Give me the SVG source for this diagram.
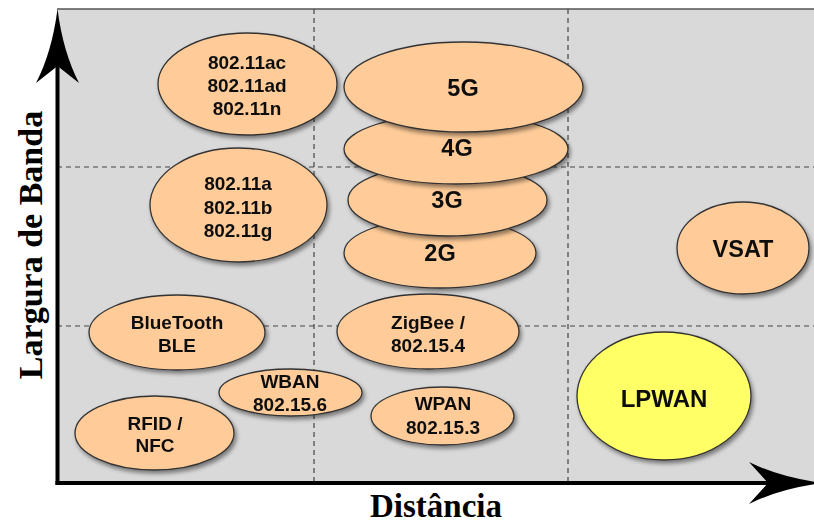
<svg xmlns="http://www.w3.org/2000/svg" width="814" height="524" viewBox="0 0 814 524">
<style>
.bg{fill:#D9D9D9;stroke:none}
.frame{fill:none;stroke:#555;stroke-width:1.5}
.grid{stroke:#444;stroke-width:1.2;stroke-dasharray:5 4;fill:none}
.node ellipse{fill:#FFCC99;stroke:#333;stroke-width:1.3}
.node.yellow ellipse{fill:#FFFF66}
.node{filter:url(#shadow)}
.lbl{font-family:"Liberation Sans",Arial,sans-serif;font-weight:bold;font-size:19px;fill:#111;text-anchor:middle}
.big{font-size:23.5px}
.axislbl{font-family:"Liberation Serif","Times New Roman",serif;font-weight:bold;font-size:33px;fill:#000;text-anchor:middle}
.axis{stroke:#000;stroke-width:4;fill:none}
.head{fill:#000;stroke:none}
</style>
<defs>
<filter id="shadow" x="-20%" y="-20%" width="150%" height="150%">
<feDropShadow dx="2" dy="3" stdDeviation="2" flood-color="#000" flood-opacity="0.45"/>
</filter>
</defs>
<rect class="bg" x="57" y="9" width="770" height="474"/>
<line class="frame" x1="57" y1="9" x2="814" y2="9"/>
<g id="grid">
<line class="grid" x1="314" y1="9" x2="314" y2="483"/>
<line class="grid" x1="568" y1="9" x2="568" y2="483"/>
<line class="grid" x1="57" y1="167" x2="814" y2="167"/>
<line class="grid" x1="57" y1="326" x2="814" y2="326"/>
</g>
<g id="axes">
<line class="axis" x1="57.5" y1="485" x2="57.5" y2="60"/>
<path class="head" d="M57.5,9 Q63,52 79,83 L57.5,66 L36,83 Q52,52 57.5,9 Z"/>
<line class="axis" x1="55.5" y1="483" x2="775" y2="483"/>
<path class="head" d="M823,483 Q780,488.5 749,504 L768,483 L749,462 Q780,477.5 823,483 Z"/>
</g>
<g id="node-80211ac" class="node">
<ellipse cx="247.5" cy="84" rx="89.5" ry="51"/>
<text class="lbl" x="247" y="69">802.11ac</text>
<text class="lbl" x="247" y="92">802.11ad</text>
<text class="lbl" x="247" y="115">802.11n</text>
</g>
<g id="node-80211a" class="node">
<ellipse cx="238.5" cy="205" rx="88.5" ry="57"/>
<text class="lbl" x="238" y="190">802.11a</text>
<text class="lbl" x="238" y="214">802.11b</text>
<text class="lbl" x="238" y="237">802.11g</text>
</g>
<g id="node-2g" class="node">
<ellipse cx="440" cy="253" rx="96" ry="35"/>
<text class="lbl big" x="440" y="261">2G</text>
</g>
<g id="node-3g" class="node">
<ellipse cx="447.5" cy="200" rx="99.5" ry="36"/>
<text class="lbl big" x="447" y="208">3G</text>
</g>
<g id="node-4g" class="node">
<ellipse cx="456" cy="149" rx="112" ry="35"/>
<text class="lbl big" x="457" y="156">4G</text>
</g>
<g id="node-5g" class="node">
<ellipse cx="463.5" cy="87" rx="119.5" ry="45"/>
<text class="lbl big" x="463" y="96">5G</text>
</g>
<g id="node-vsat" class="node">
<ellipse cx="743" cy="248" rx="66" ry="46"/>
<text class="lbl big" x="743" y="257">VSAT</text>
</g>
<g id="node-bluetooth" class="node">
<ellipse cx="177" cy="332.5" rx="88" ry="37.5"/>
<text class="lbl" x="177" y="329">BlueTooth</text>
<text class="lbl" x="177" y="352">BLE</text>
</g>
<g id="node-zigbee" class="node">
<ellipse cx="428" cy="331.5" rx="91" ry="37.5"/>
<text class="lbl" x="428" y="329">ZigBee /</text>
<text class="lbl" x="428" y="352">802.15.4</text>
</g>
<g id="node-wban" class="node">
<ellipse cx="290.5" cy="392.5" rx="71.5" ry="23.5"/>
<text class="lbl" x="290" y="388">WBAN</text>
<text class="lbl" x="290" y="411">802.15.6</text>
</g>
<g id="node-wpan" class="node">
<ellipse cx="442.5" cy="416" rx="71.5" ry="29"/>
<text class="lbl" x="443" y="410">WPAN</text>
<text class="lbl" x="443" y="434">802.15.3</text>
</g>
<g id="node-rfid" class="node">
<ellipse cx="154.5" cy="433" rx="79.5" ry="37"/>
<text class="lbl" x="155" y="430">RFID /</text>
<text class="lbl" x="155" y="452">NFC</text>
</g>
<g id="node-lpwan" class="node yellow">
<ellipse cx="664" cy="396" rx="87" ry="64"/>
<text class="lbl" x="664" y="407" style="font-size:24px">LPWAN</text>
</g>
<text class="axislbl" x="436" y="517">Distância</text>
<text class="axislbl" transform="translate(42,245) rotate(-90)" x="0" y="0" style="font-size:34px">Largura de Banda</text>
</svg>
